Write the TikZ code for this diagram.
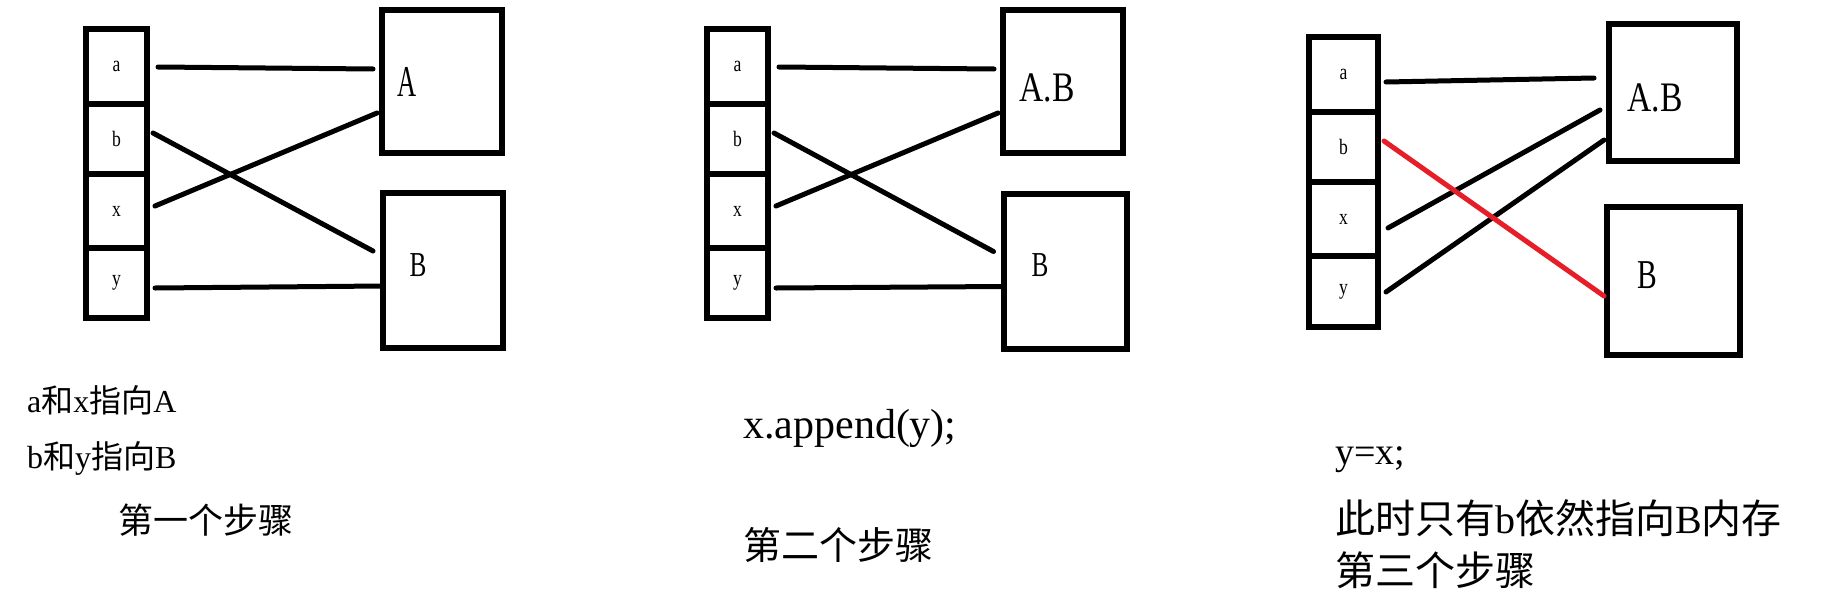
\documentclass[tikz,border=0pt]{standalone}
\usepackage{fontspec}
\setmainfont{Liberation Serif}
\newfontfamily\cjk{Noto Sans CJK SC}
\definecolor{linkred}{RGB}{230,30,40}
\newcommand{\fsz}[1]{\fontsize{#1}{#1}\selectfont}
\newcommand{\zh}[1]{{\cjk #1}}
\begin{document}
\begin{tikzpicture}[x=1pt,y=-1pt,
  cell/.style={draw, line width=6pt, minimum width=61pt, inner sep=0pt, font=\fsz{22}},
  mem/.style={draw, line width=6pt, inner sep=0pt},
  link/.style={line width=5pt, line cap=round},
  boxlabel/.style={inner sep=0pt},
  txt/.style={anchor=west, inner sep=0pt, align=left}]
\useasboundingbox[fill=white] (0,0) rectangle (1844,608);

% ---------- panel 1 ----------
\node[cell, minimum height=75pt] (a1) at (116.5,66.5) {\scalebox{0.8}[1]{a}};
\node[cell, minimum height=70pt] (b1) at (116.5,139) {\scalebox{0.8}[1]{b}};
\node[cell, minimum height=74pt] (x1) at (116.5,211) {\scalebox{0.8}[1]{x}};
\node[cell, minimum height=70pt] (y1) at (116.5,283) {\scalebox{0.8}[1]{y}};
\node[mem, minimum width=120pt, minimum height=143pt] (A1) at (442,81.5) {};
\node[mem, minimum width=120pt, minimum height=155pt] (B1) at (443,270.5) {};
\node[boxlabel, font=\fsz{44}] (lA1) at (407,82) {\scalebox{0.6}[1]{A}};
\node[boxlabel, font=\fsz{35}] (lB1) at (418,265) {\scalebox{0.72}[1]{B}};
\draw[link] ([xshift=8pt,yshift=-0.5pt]a1.east) -- ([xshift=-6pt,yshift=12.5pt]A1.west);
\draw[link] ([xshift=5pt,yshift=5pt]x1.east) -- ([xshift=-2pt,yshift=-31.5pt]A1.west);
\draw[link] ([xshift=3pt,yshift=6pt]b1.east) -- ([xshift=-7pt,yshift=19.5pt]B1.west);
\draw[link] ([xshift=5pt,yshift=-5pt]y1.east) -- ([xshift=2pt,yshift=-15.5pt]B1.west);
\node[txt, font=\fsz{32}] (t1a) at (27,400) {a\zh{和}x\zh{指向}A};
\node[txt, font=\fsz{32}] (t1b) at (27,458) {b\zh{和}y\zh{指向}B};
\node[txt, font=\fsz{35}] (t1c) at (118,520) {\zh{第一个步骤}};

% ---------- panel 2 ----------
\begin{scope}[xshift=621pt]
\node[cell, minimum height=75pt] (a2) at (116.5,66.5) {\scalebox{0.8}[1]{a}};
\node[cell, minimum height=70pt] (b2) at (116.5,139) {\scalebox{0.8}[1]{b}};
\node[cell, minimum height=74pt] (x2) at (116.5,211) {\scalebox{0.8}[1]{x}};
\node[cell, minimum height=70pt] (y2) at (116.5,283) {\scalebox{0.8}[1]{y}};
\node[mem, minimum width=120pt, minimum height=143pt] (A2) at (442,81.5) {};
\node[mem, minimum width=123pt, minimum height=155pt] (B2) at (444,271) {};
\node[boxlabel, font=\fsz{42}] (lA2) at (426,88) {\scalebox{0.8}[1]{A.B}};
\node[boxlabel, font=\fsz{35}] (lB2) at (419,265) {\scalebox{0.72}[1]{B}};
\draw[link] ([xshift=8pt,yshift=-0.5pt]a2.east) -- ([xshift=-6pt,yshift=12.5pt]A2.west);
\draw[link] ([xshift=5pt,yshift=5pt]x2.east) -- ([xshift=-2pt,yshift=-31.5pt]A2.west);
\draw[link] ([xshift=3pt,yshift=6pt]b2.east) -- ([xshift=-7pt,yshift=19.5pt]B2.west);
\draw[link] ([xshift=5pt,yshift=-5pt]y2.east) -- ([xshift=2pt,yshift=-15.5pt]B2.west);
\node[txt, font=\fsz{42}] (t2a) at (122,428) {x.append(y);};
\node[txt, font=\fsz{38}] (t2b) at (122,545) {\zh{第二个步骤}};
\end{scope}

% ---------- panel 3 ----------
\node[cell, minimum width=69pt, minimum height=75pt] (a3) at (1343.5,74.5) {\scalebox{0.8}[1]{a}};
\node[cell, minimum width=69pt, minimum height=70pt] (b3) at (1343.5,147) {\scalebox{0.8}[1]{b}};
\node[cell, minimum width=69pt, minimum height=74pt] (x3) at (1343.5,219) {\scalebox{0.8}[1]{x}};
\node[cell, minimum width=69pt, minimum height=71pt] (y3) at (1343.5,291.5) {\scalebox{0.8}[1]{y}};
\node[mem, minimum width=128pt, minimum height=137pt] (A3) at (1673,92.5) {};
\node[mem, minimum width=133pt, minimum height=148pt] (B3) at (1673.5,281) {};
\node[boxlabel, font=\fsz{42}] (lA3) at (1655,98) {\scalebox{0.8}[1]{A.B}};
\node[boxlabel, font=\fsz{41}] (lB3) at (1647,275) {\scalebox{0.72}[1]{B}};
\draw[link] ([xshift=5pt,yshift=-7.5pt]a3.east) -- ([xshift=-12pt,yshift=14.5pt]A3.west);
\draw[link] ([xshift=7pt,yshift=-9pt]x3.east) -- ([xshift=-6pt,yshift=-17.5pt]A3.west);
\draw[link] ([xshift=5pt,yshift=-0.5pt]y3.east) -- ([xshift=-2pt,yshift=-47.5pt]A3.west);
\draw[link, draw=linkred] ([xshift=3pt,yshift=6pt]b3.east) -- ([yshift=-15pt]B3.west);
\node[txt, font=\fsz{38}] (t3a) at (1335,460) {y=x;};
\node[txt, font=\fsz{40}] (t3b) at (1335,518) {\zh{此时只有}b\zh{依然指向}B\zh{内存}};
\node[txt, font=\fsz{40}] (t3c) at (1335,570) {\zh{第三个步骤}};
\end{tikzpicture}
\end{document}
